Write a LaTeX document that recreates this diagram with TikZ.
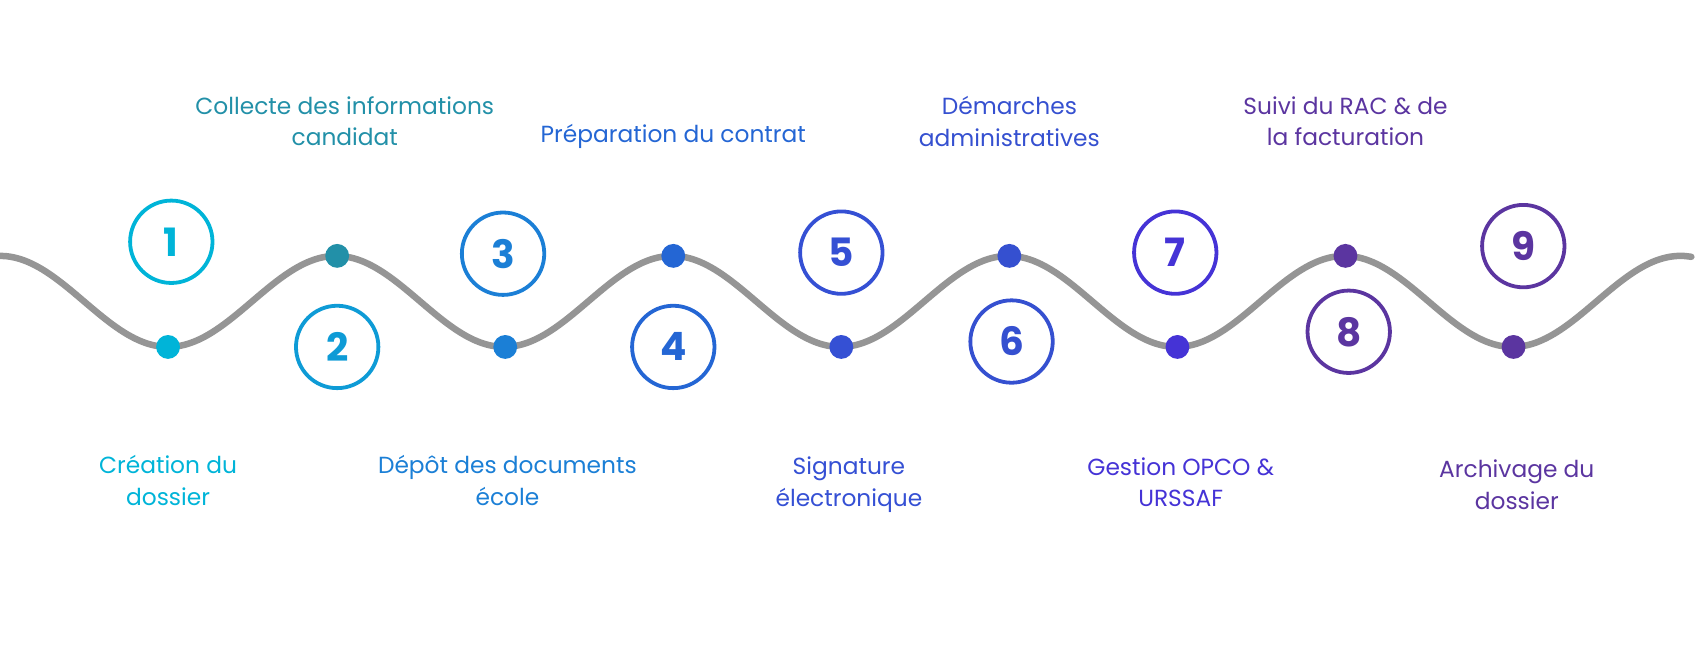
\documentclass[tikz,border=0pt]{standalone}
\usepackage{fontspec}
\setmainfont{Poppins}
\newfontfamily\numfont{Poppins Bold}
\definecolor{c1}{HTML}{00B4D8}
\definecolor{c2}{HTML}{0E9BD6}
\definecolor{d2}{HTML}{2290A8}
\definecolor{c3}{HTML}{1B7FD6}
\definecolor{c4}{HTML}{2466D4}
\definecolor{c5}{HTML}{3550D4}
\definecolor{c6}{HTML}{3550D0}
\definecolor{c7}{HTML}{4533D6}
\definecolor{c8}{HTML}{5B35A0}
\definecolor{wave}{HTML}{959595}
\begin{document}
\begin{tikzpicture}[x=1pt,y=-1pt,
  num/.style={circle,draw=#1,line width=3.5pt,minimum size=76pt,inner sep=0pt,text=#1,font=\numfont\fontsize{36}{36}\selectfont},
  dot/.style={circle,fill=#1,minimum size=22pt,inner sep=0pt},
  lab/.style={text=#1,align=center,font=\fontsize{21.5}{29}\selectfont}]
\useasboundingbox (0,0) rectangle (1568,600);
\draw[wave,line width=6pt,line cap=round] plot[domain=0:1560,samples=240,smooth] (\x,{278-42*cos((\x/310)*360)});
\node[dot=c1] (p1) at (155,320) {};
\node[dot=d2] (p2) at (311,236) {};
\node[dot=c3] (p3) at (466,320) {};
\node[dot=c4] (p4) at (621,236) {};
\node[dot=c5] (p5) at (776,320) {};
\node[dot=c6] (p6) at (931,236) {};
\node[dot=c7] (p7) at (1086,320) {};
\node[dot=c8] (p8) at (1241,236) {};
\node[dot=c8] (p9) at (1396,320) {};
\node[num=c1] (n1) at (158,223) {1};
\node[num=c2] (n2) at (311,320) {2};
\node[num=c3] (n3) at (464,234) {3};
\node[num=c4] (n4) at (621,320) {4};
\node[num=c5] (n5) at (776,233) {5};
\node[num=c6] (n6) at (933,315) {6};
\node[num=c7] (n7) at (1084,233) {7};
\node[num=c8] (n8) at (1244,306) {8};
\node[num=c8] (n9) at (1405,227) {9};
\node[lab=c1] (l1) at (155,443) {Création du\\dossier};
\node[lab=d2] (l2) at (318,112) {Collecte des informations\\candidat};
\node[lab=c3] (l3) at (468,443) {Dépôt des documents\\école};
\node[lab=c4] (l4) at (621,126) {Préparation du contrat};
\node[lab=c5] (l5) at (783,447) {Signature\\électronique};
\node[lab=c6] (l6) at (931,112) {Démarches\\administratives};
\node[lab=c7] (l7) at (1089,445) {Gestion OPCO \&\\URSSAF};
\node[lab=c8] (l8) at (1241,112) {Suivi du RAC \& de\\la facturation};
\node[lab=c8] (l9) at (1399,447) {Archivage du\\dossier};
\end{tikzpicture}
\end{document}
